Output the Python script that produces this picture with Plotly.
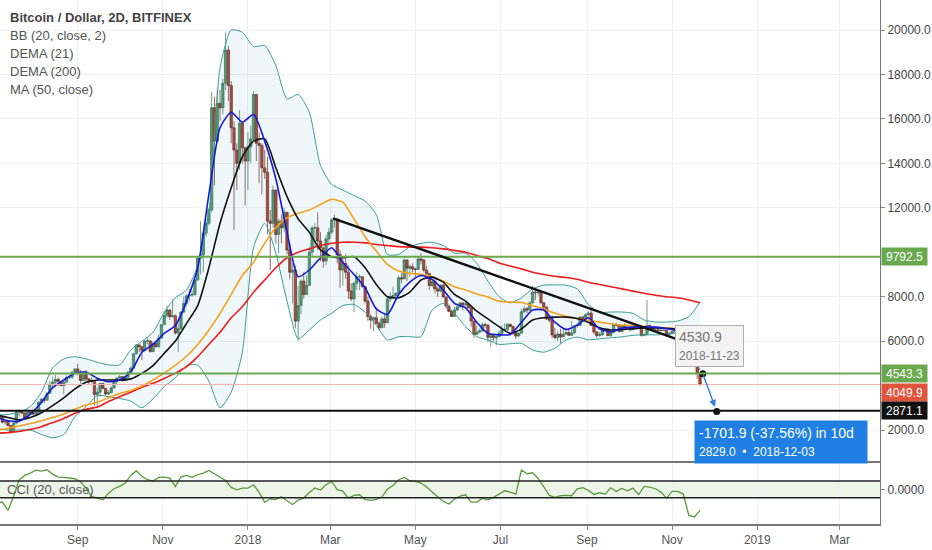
import pandas as pd
import plotly.graph_objects as go
from plotly.subplots import make_subplots

# BTC/USD Bitfinex, 2D candles, Jul 2017 - Nov 2018
first_open = 2620
close = [
    2600, 2560, 2350, 2400, 2200, 1920, 2310, 2860, 2830, 2760, 2530, 2800, 2760, 2720,
    2800, 3250, 3390, 3340, 3650, 4050, 4150, 4280, 4190, 4000, 4150, 4360, 4380, 4600, 4750,
    4560, 4230, 4600, 4300, 4230, 4180, 3600, 3700, 4100, 3880, 3620, 3680, 3890, 4190, 4340,
    4400, 4220, 4370, 4610, 4780, 5430, 5830, 5750, 5570, 6000, 6010, 5530, 5900, 5750, 6130, 6740,
    7150, 7400, 7100, 7140, 6360, 6560, 7310, 7700, 8040, 8070, 8100, 8750, 9730, 9880, 10860,
    11300, 11900, 16500, 15000, 16700, 16500, 17600, 19100, 17500, 15600, 14600, 14000, 15800, 14700, 14100,
    14750, 15100, 17100, 14900, 14800, 13800, 13600, 11400, 11300, 12800, 10800, 11400, 11100, 11800, 10100, 9100,
    9200, 6900, 7600, 8700, 8100, 8500, 10000, 11100, 11100, 10500, 10200, 9600, 10600, 10900,
    11450, 11500, 9900, 9200, 9500, 9100, 8250, 7900, 8600, 8900, 8900, 8450, 7800, 7100, 6950,
    7050, 6800, 6600, 7000, 6830, 7900, 8000, 8050, 8150, 8850, 8800, 9650, 9280, 9350, 9240,
    9230, 9700, 9650, 9200, 9040, 8500, 8680, 8350, 8250, 8520, 7990, 7580, 7340, 7110, 7400, 7540,
    7720, 7630, 7680, 7500, 6900, 6300, 6400, 6460, 6740, 6720, 6170, 6250, 6150, 6200, 6350,
    6510, 6530, 6760, 6660, 6380, 6230, 6350, 7320, 7460, 7400, 7720, 8200, 8180, 8200, 7730,
    7530, 7010, 6940, 6280, 6150, 6320, 6190, 6310, 6390, 6260, 6370, 6690, 6700, 7080, 6980, 7190,
    7260, 6700, 6410, 6250, 6290, 6490, 6550, 6250, 6390, 6770, 6710, 6430, 6690, 6600, 6590,
    6510, 6640, 6620, 6650, 6250, 6300, 6700, 6600, 6480, 6500, 6490, 6480, 6490, 6300, 6350,
    6440, 6500, 6500, 6400, 6400, 6390, 5650, 5550, 5450, 4550, 4049.9,
]
high = [
    2650, 2620, 2580, 2420, 2420, 2230, 2390, 2900, 2930, 2860, 2790, 2850, 2830, 2930,
    2840, 3290, 3420, 3490, 3700, 4200, 4400, 4480, 4350, 4200, 4250, 4460, 4400, 4640, 4760,
    4980, 4700, 4650, 4690, 4350, 4380, 4200, 3900, 4120, 4100, 3900, 3800, 3980, 4230, 4370,
    4470, 4430, 4400, 4630, 4880, 5450, 5860, 5860, 5780, 6050, 6200, 6050, 5980, 6000, 6300, 6750,
    7350, 7600, 7400, 7880, 7200, 6800, 7350, 8000, 8100, 8350, 8300, 8800, 9750, 11400, 10950,
    11500, 12000, 17200, 17000, 17300, 17300, 17800, 19890, 19300, 17700, 15900, 14900, 16400, 15900, 14600,
    15400, 15700, 17250, 17100, 15400, 14900, 14600, 14300, 11900, 13000, 12800, 11500, 11700, 12000, 11800, 10400,
    9500, 9400, 8500, 8800, 9100, 8950, 10250, 11200, 11300, 11800, 10900, 10200, 10800, 11100,
    11550, 11700, 11500, 10100, 9700, 9900, 9400, 8600, 8700, 9100, 9000, 8900, 8500, 8000, 7200,
    7100, 7500, 6900, 7100, 7200, 8000, 8200, 8450, 8200, 8950, 9050, 9750, 9700, 9450, 9500,
    9300, 9800, 9950, 9700, 9380, 9050, 8900, 8850, 8450, 8550, 8550, 7990, 7650, 7400, 7550, 7600,
    7760, 7750, 7750, 7720, 7500, 6920, 6700, 6560, 6830, 6820, 6750, 6300, 6280, 6250, 6450,
    6700, 6800, 6800, 6780, 6700, 6400, 6400, 7450, 7580, 7550, 7800, 8480, 8300, 8250, 8250,
    7750, 7550, 7100, 7150, 6600, 6450, 6550, 6600, 6600, 6550, 6900, 6720, 6800, 7120, 7150, 7250,
    7350, 7400, 6750, 6450, 6400, 6550, 6600, 6550, 6450, 6800, 6780, 6720, 6720, 6800, 6650,
    6620, 6670, 6650, 6700, 6650, 6350, 7850, 6750, 6620, 6550, 6530, 6520, 6520, 6500, 6380,
    6480, 6520, 6520, 6600, 6420, 6430, 6400, 5700, 5650, 5600, 4600,
]
low = [
    2560, 2480, 2300, 2250, 2170, 1840, 1910, 2250, 2600, 2700, 2450, 2520, 2680, 2700,
    2650, 2780, 3150, 3220, 3330, 3630, 3850, 3950, 3980, 3960, 3600, 4140, 4300, 4290, 4560,
    4470, 4100, 4200, 4150, 4050, 4100, 3100, 2980, 3500, 3830, 3550, 3570, 3660, 3880, 4050,
    4300, 4170, 4200, 4360, 4560, 4760, 5400, 5500, 5150, 5550, 5850, 5480, 5500, 5700, 5700, 6100,
    6730, 7050, 6950, 7050, 6300, 5500, 6500, 7250, 7550, 7800, 8000, 8050, 8700, 9000, 9100,
    10700, 11200, 11800, 13000, 14900, 15900, 16200, 17300, 16800, 14900, 11000, 12800, 13700, 14000, 12100,
    12800, 14000, 15000, 14100, 13100, 12600, 13300, 10800, 9200, 11100, 10400, 9950, 10400, 10900, 9900, 8800,
    7700, 6600, 6000, 7200, 7900, 8150, 8500, 9800, 10200, 10100, 9600, 9300, 9400, 10300,
    10800, 11100, 9500, 8400, 8500, 8800, 7900, 7800, 7300, 8300, 8300, 8400, 7700, 6900, 6550,
    6450, 6750, 6500, 6600, 6600, 6800, 7750, 7900, 7850, 8100, 8600, 8800, 8700, 8900, 9100,
    8850, 9200, 9450, 9100, 8950, 8300, 8400, 8150, 8000, 8200, 7950, 7450, 7300, 7100, 7100, 7350,
    7500, 7400, 7550, 7480, 6650, 6150, 6300, 6350, 6420, 6600, 5950, 5750, 6000, 5800, 6180,
    6300, 6450, 6450, 6620, 6280, 6100, 6200, 6350, 7250, 7250, 7350, 7700, 7850, 8050, 7650,
    7450, 6950, 6850, 6150, 6100, 6000, 5900, 6200, 6300, 6250, 6250, 6350, 6600, 6700, 6900, 6950,
    7150, 6680, 6300, 6150, 6200, 6220, 6450, 6220, 6200, 6380, 6650, 6400, 6400, 6500, 6550,
    6450, 6500, 6550, 6600, 6200, 6250, 6280, 6550, 6450, 6470, 6460, 6450, 6450, 6250, 6280,
    6330, 6380, 6400, 6380, 6330, 6340, 5350, 5450, 5400, 4300, 3980,
]

# indicator lines, sampled every 8 days from 2017-07-05
bb_upper = [2680, 2700, 2800, 3050, 3700, 4800, 5200, 5300, 5200, 5050,
            4930, 4930, 5600, 6000, 6400, 7300, 7950, 8300, 9400, 11800,
            18300, 20000, 19900, 19250, 19300, 18400, 16900, 17100, 16300, 13900,
            13050, 12800, 12550, 12300, 11700, 9900, 9900, 10250, 10400, 10450,
            10300, 9960, 9960, 9500, 8700, 8000, 7720, 7950, 8350, 8520,
            8530, 8520, 8350, 7650, 7300, 7310, 7310, 7250, 6950, 6860,
            6860, 6900, 7100, 7750]
bb_lower = [2050, 2000, 2000, 2000, 1800, 1650, 1800, 2600, 3050, 3550,
            3500, 3420, 3300, 3000, 3400, 3950, 4350, 4900, 4920, 4200,
            3000, 3700, 5500, 10200, 11300, 9950, 7800, 6100, 6500, 6950,
            7250, 7600, 7650, 7300, 6700, 6050, 6200, 6200, 6200, 7400,
            7700, 7250, 6650, 6200, 6050, 5850, 5880, 5900, 5600, 5500,
            5680, 6050, 6180, 6060, 6100, 6150, 6190, 6260, 6280, 6280,
            6310, 6330, 5800, 4700]
bb_basis = [2680, 2560, 2460, 2560, 2780, 3100, 3450, 3850, 4150, 4250,
            4250, 4250, 4300, 4550, 4900, 5450, 6000, 6800, 7600, 9300,
            11300, 12900, 14300, 15000, 15100, 13800, 12500, 11500, 10900, 10100,
            9800, 9750, 9800, 9300, 8550, 8000, 7950, 8200, 8750, 8880,
            8650, 8100, 7800, 7350, 7000, 6650, 6350, 6550, 6950, 7050,
            7080, 7080, 7020, 6850, 6600, 6500, 6520, 6560, 6590, 6590,
            6580, 6520, 6350, 6100]
dema21 = [2560, 2420, 2400, 2700, 3250, 3900, 4250, 4550, 4600, 4330,
          4170, 4250, 4600, 5500, 5850, 6350, 6700, 7800, 9300, 12600,
          15600, 16300, 15850, 16200, 15000, 13300, 10900, 8900, 9200, 9750,
          10200, 9550, 9000, 8400, 7450, 7200, 8100, 8650, 8950, 8780,
          8300, 7700, 7500, 6850, 6350, 6280, 6300, 6850, 7400, 7400,
          6850, 6520, 6720, 7050, 6550, 6420, 6580, 6630, 6640, 6630,
          6560, 6450, 5800, 4950]
dema200 = [1850, 1880, 1930, 2020, 2150, 2330, 2520, 2750, 2930, 3030,
           3280, 3500, 3700, 3920, 4100, 4320, 4560, 4850, 5300, 5850,
           6400, 7050, 7550, 8200, 8750, 9300, 9750, 10000, 10150, 10300,
           10400, 10450, 10450, 10420, 10350, 10300, 10250, 10230, 10230, 10200,
           10150, 10080, 10000, 9850, 9720, 9520, 9380, 9250, 9100, 9000,
           8920, 8860, 8780, 8650, 8550, 8450, 8350, 8250, 8150, 8060,
           8000, 7950, 7850, 7720]
ma50 = [1980, 2080, 2180, 2290, 2420, 2560, 2720, 2930, 3120, 3250,
        3450, 3640, 3780, 3980, 4250, 4560, 4920, 5320, 5850, 6500,
        7250, 8100, 8950, 9550, 10400, 11100, 11550, 11750, 11900, 12150,
        12380, 12250, 11500, 10700, 10050, 9450, 9150, 9050, 9000, 8900,
        8700, 8450, 8300, 8120, 7980, 7800, 7760, 7740, 7600, 7450,
        7250, 7120, 7000, 6950, 6850, 6780, 6720, 6700, 6650, 6620,
        6590, 6550, 6450, 6300]

# CCI (20, close), sampled every 4 days from 2017-07-05
cci = [-164, -152, -250, -84, 112, 168, 196, 232, 220, 236,
       184, 148, 144, 132, 128, 92, 16, -84, -100, -124,
       -48, 8, 36, 76, 168, 224, 156, 116, 100, 144,
       148, 136, 36, 152, 168, 144, 176, 196, 228, 188,
       156, 108, 24, -4, 16, 16, 56, -36, -156, -112,
       -120, -88, -136, -180, -128, -104, -36, 16, -8, 56,
       96, -4, -20, -104, -72, -64, -124, -132, -120, -92,
       4, 48, 116, 144, 104, 96, 76, 32, -32, -84,
       -144, -176, -116, -80, -64, -152, -152, -108, -124, -96,
       -56, -16, -32, -56, 232, 188, 200, 132, 32, -72,
       -96, -76, -72, -76, 8, 20, -12, -60, -40, -56,
       20, -24, 12, -16, 16, -64, 36, 28, 8, -32,
       -104, -24, -24, -56, -312, -330, -252]

green_levels = [9792.5, 4543.3]
support_level = 2871.1
last_price = 4049.9
trend_dates = ['2018-03-03', '2018-11-09']
trend_prices = [11525, 5990]
proj_dates = ['2018-11-23', '2018-12-03']
proj_prices = [4530.9, 2829.0]

month_ticks = ['2017-09-01', '2017-11-01', '2018-01-01', '2018-03-01', '2018-05-01',
               '2018-07-01', '2018-09-01', '2018-11-01', '2019-01-01', '2019-03-01']
month_text = ['Sep', 'Nov', '2018', 'Mar', 'May', 'Jul', 'Sep', 'Nov', '2019', 'Mar']
price_ticks = [2000, 6000, 8000, 12000, 14000, 16000, 18000, 20000]

bar_dates = pd.date_range('2017-07-05', periods=len(close), freq='2D')
opens = [first_open] + close[:-1]
ind_dates = pd.date_range('2017-07-05', periods=len(bb_upper), freq='8D')
cci_dates = pd.date_range('2017-07-05', periods=len(cci), freq='4D')

TEAL = '#3a9e8c'
GREEN = '#6aa84f'
FONT = 'Liberation Sans, Arial, sans-serif'
GRID = '#eef0f3'

fig = make_subplots(rows=2, cols=1, shared_xaxes=True, vertical_spacing=0)

def line(y, color, width=1.3, x=ind_dates):
    return go.Scatter(x=x, y=y, mode='lines', hoverinfo='skip', showlegend=False,
                      line=dict(color=color, width=width, shape='spline', smoothing=0.6))

# bollinger band + fill
fig.add_trace(line(bb_lower, TEAL, 1), row=1, col=1)
band = line(bb_upper, TEAL, 1)
band.update(fill='tonexty', fillcolor='rgba(80,165,215,0.09)')
fig.add_trace(band, row=1, col=1)

fig.add_trace(go.Candlestick(
    x=bar_dates, open=opens, high=high, low=low, close=close,
    increasing=dict(line=dict(color='#3d6e52', width=0.7), fillcolor='#4f9a6c'),
    decreasing=dict(line=dict(color='#6a2a1e', width=0.7), fillcolor='#b3452f'),
    whiskerwidth=0, showlegend=False, hoverinfo='skip'), row=1, col=1)

fig.add_trace(line(dema200, '#ee1c1c', 1.6), row=1, col=1)
fig.add_trace(line(ma50, '#f5a01a', 1.6), row=1, col=1)
fig.add_trace(line(bb_basis, '#111111', 1.6), row=1, col=1)
fig.add_trace(line(dema21, '#1616d8', 1.6), row=1, col=1)

# projection end points
fig.add_trace(go.Scatter(x=proj_dates, y=proj_prices, mode='markers', hoverinfo='skip',
                         showlegend=False, marker=dict(color='#111', size=7)), row=1, col=1)

# CCI panel
fig.add_shape(type='rect', xref='x2 domain', yref='y2', x0=0, x1=1, y0=-100, y1=100,
              fillcolor='rgba(140,195,110,0.16)', line=dict(width=0), layer='below')
for lvl in (100, -100):
    fig.add_shape(type='line', xref='x2 domain', yref='y2', x0=0, x1=1, y0=lvl, y1=lvl,
                  line=dict(color='#222', width=1.5))
fig.add_trace(go.Scatter(x=cci_dates, y=cci, mode='lines', hoverinfo='skip', showlegend=False,
                         line=dict(color='#5b9a3c', width=1.3)), row=2, col=1)

# horizontal levels and trend line
for lvl in green_levels:
    fig.add_shape(type='line', xref='x domain', yref='y', x0=0, x1=1, y0=lvl, y1=lvl,
                  line=dict(color=GREEN, width=2))
fig.add_shape(type='line', xref='x domain', yref='y', x0=0, x1=1, y0=last_price, y1=last_price,
              line=dict(color='#f3b0b0', width=1))
fig.add_shape(type='line', xref='x domain', yref='y', x0=0, x1=1, y0=support_level, y1=support_level,
              line=dict(color='#111', width=2))
fig.add_shape(type='line', xref='x', yref='y', x0=trend_dates[0], x1=trend_dates[1],
              y0=trend_prices[0], y1=trend_prices[1], line=dict(color='#111', width=2.5))

# price labels on the right axis
for val, txt, bg in [(green_levels[0], '9792.5', GREEN), (green_levels[1], '4543.3', GREEN),
                     (3710, '4049.9', '#e0533c'), (support_level, '2871.1', '#111')]:
    fig.add_annotation(xref='paper', x=1, xanchor='left', xshift=1, yref='y', y=val,
                       text=txt, showarrow=False, bgcolor=bg, width=43, height=15, borderpad=1,
                       font=dict(color='white', size=12, family=FONT))

# projection arrow and boxes
fig.add_annotation(x=proj_dates[1], y=proj_prices[1], ax=proj_dates[0], ay=proj_prices[0],
                   xref='x', yref='y', axref='x', ayref='y', text='', showarrow=True,
                   arrowhead=2, arrowsize=1, arrowwidth=1.4, arrowcolor='#2f7fe0', standoff=5)
fig.add_annotation(x='2018-11-27 19:00', y=5800, xref='x', yref='y', showarrow=False,
                   text="4530.9<br><span style='font-size:12px'>2018-11-23</span>", align='left',
                   bgcolor='#f3f3f3', bordercolor='#b0b0b0', borderwidth=1, borderpad=3,
                   font=dict(color='#777', size=14, family=FONT))
fig.add_annotation(x='2019-01-18', y=1480, xref='x', yref='y', showarrow=False,
                   text="-1701.9 (-37.56%) in 10d<br><span style='font-size:12px'>2829.0  \u2022  2018-12-03</span>",
                   align='left', width=164, bgcolor='#1f7fe3', borderpad=4,
                   font=dict(color='white', size=14, family=FONT))

# study titles top-left
titles = ['Bitcoin / Dollar, 2D, BITFINEX', 'BB (20, close, 2)', 'DEMA (21)', 'DEMA (200)', 'MA (50, close)']
for i, t in enumerate(titles):
    fig.add_annotation(xref='paper', yref='paper', x=8 / 880, y=1 - (17 + 18 * i) / 524,
                       xanchor='left', yanchor='middle', showarrow=False,
                       text='<b>' + t + '</b>' if i == 0 else t,
                       font=dict(color='#444' if i == 0 else '#555', size=13, family=FONT))
fig.add_annotation(xref='paper', yref='y2', x=5 / 880, y=0, xanchor='left', yanchor='middle',
                   showarrow=False, text='CCI (20, close)', font=dict(color='#555', size=13, family=FONT))

x_range = ['2017-07-07 07:00', '2019-03-30']
fig.update_layout(
    width=932, height=550, autosize=False,
    margin=dict(l=0, r=52, t=0, b=26),
    paper_bgcolor='white', plot_bgcolor='white',
    font=dict(family=FONT, color='#444', size=12),
    showlegend=False, boxgap=0.15, boxgroupgap=0,
    xaxis=dict(range=x_range, tickvals=month_ticks, showticklabels=False, showgrid=True,
               gridcolor=GRID, zeroline=False, rangeslider=dict(visible=False)),
    xaxis2=dict(range=x_range, tickvals=month_ticks, ticktext=month_text, showgrid=True,
                gridcolor=GRID, ticks='outside', ticklen=4, tickcolor='#888',
                showline=True, mirror=True, linecolor='#777', linewidth=1.5,
                tickfont=dict(color='#555', size=12)),
    yaxis=dict(domain=[61 / 524, 1], range=[515, 21350], side='right', tickvals=price_ticks,
               tickformat='.1f', showgrid=True, gridcolor=GRID, zeroline=False,
               ticks='outside', ticklen=4, tickcolor='#888', showline=True, linecolor='#777',
               tickfont=dict(color='#444', size=12)),
    yaxis2=dict(domain=[0, 61 / 524], range=[-415, 317], side='right', tickvals=[0],
                ticktext=['0.0000'], showgrid=False, zeroline=False, ticks='outside',
                ticklen=4, tickcolor='#888', showline=True, linecolor='#777',
                tickfont=dict(color='#444', size=12)),
)

fig.write_html("out.html", config={'displayModeBar': False},
               post_script="document.body.style.margin='0';")
